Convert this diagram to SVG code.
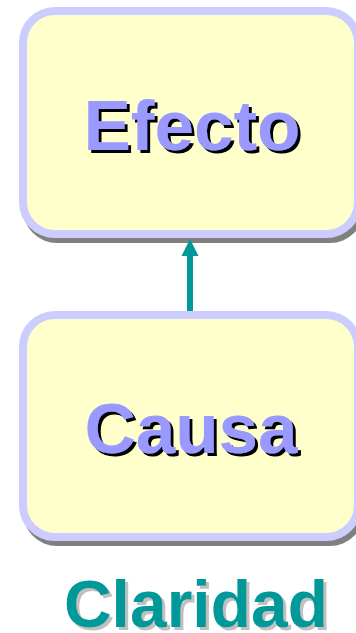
<svg xmlns="http://www.w3.org/2000/svg" width="356" height="633" viewBox="0 0 356 633">
<style>
.shadow{fill:#808080}
.box{fill:#FFFFCC;stroke:#CCCCFF;stroke-width:8}
.lbl{font-family:"Liberation Sans",Arial,sans-serif;font-weight:bold;font-size:71px;text-anchor:middle;fill:#9999FF;filter:url(#blk)}
.cap{font-family:"Liberation Sans",Arial,sans-serif;font-weight:bold;font-size:66px;text-anchor:middle;fill:#009999;filter:url(#gry)}
</style>
<defs>
<filter id="blk" x="-10%" y="-20%" width="120%" height="140%">
<feOffset in="SourceAlpha" dx="2.5" dy="2.5" result="o"/>
<feFlood flood-color="#000000"/>
<feComposite in2="o" operator="in" result="s"/>
<feMerge><feMergeNode in="s"/><feMergeNode in="SourceGraphic"/></feMerge>
</filter>
<filter id="gry" x="-10%" y="-20%" width="120%" height="140%">
<feOffset in="SourceAlpha" dx="2.5" dy="2.5" result="o"/>
<feFlood flood-color="#C0C0C0"/>
<feComposite in2="o" operator="in" result="s"/>
<feMerge><feMergeNode in="s"/><feMergeNode in="SourceGraphic"/></feMerge>
</filter>
</defs>
<g id="efecto">
<rect class="shadow" x="23" y="16" width="341" height="227" rx="34"/>
<rect class="box" x="23" y="11" width="335" height="223" rx="32"/>
<text class="lbl" x="192" y="150">Efecto</text>
</g>
<g id="causa">
<rect class="shadow" x="23" y="320" width="341" height="226" rx="34"/>
<rect class="box" x="23" y="315" width="335" height="222" rx="32"/>
<text class="lbl" x="191" y="453">Causa</text>
</g>
<g id="connectors">
<line x1="190" y1="311" x2="190" y2="254" stroke="#009999" stroke-width="6"/>
<polygon points="190,239 181.5,256 198.5,256" fill="#009999"/>
</g>
<g id="claridad">
<text class="cap" x="196" y="627">Claridad</text>
</g>
</svg>
